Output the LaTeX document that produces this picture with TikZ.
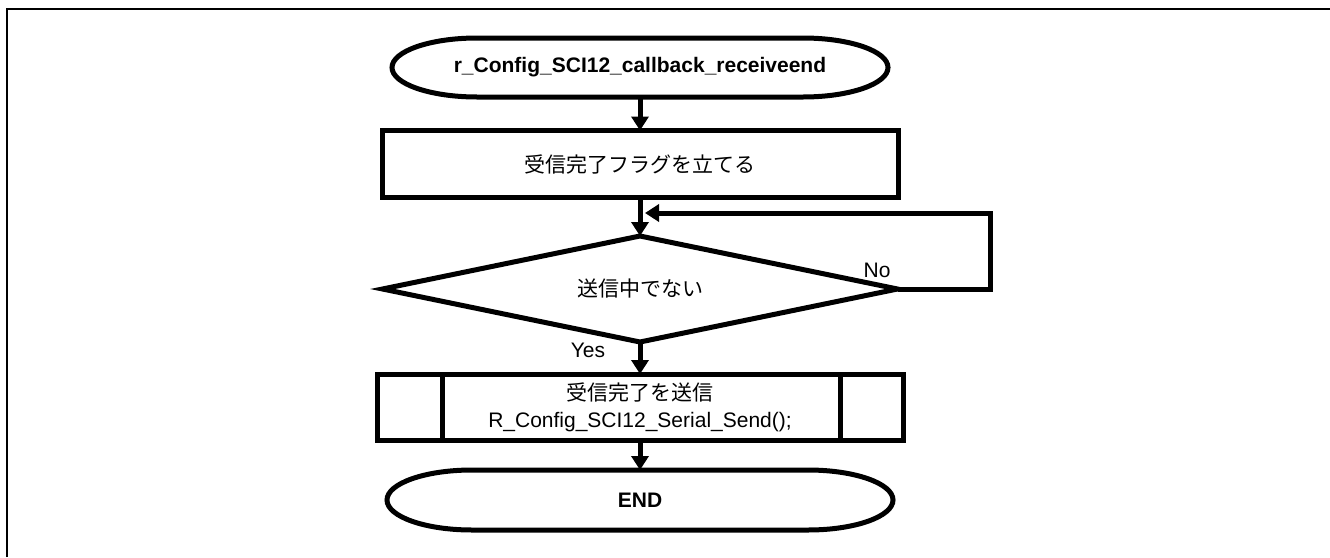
\documentclass[tikz,border=0pt]{standalone}
\usepackage{fontspec}
\setmainfont{Liberation Sans}
\newfontfamily\jp{Noto Sans CJK JP}
\usetikzlibrary{arrows.meta}
\tikzset{
  shp/.style={draw, line width=5pt, inner sep=0pt, outer sep=0pt, align=center,
              font=\fontsize{21}{27}\selectfont},
  ghost/.style={draw=none, inner sep=0pt, outer sep=0pt, align=center,
              font=\fontsize{21}{27}\selectfont},
  outline/.style={line width=5pt, line join=miter},
  flow/.style={line width=5pt, -{Triangle[width=17pt,length=14pt]}},
  lbl/.style={font=\fontsize{21}{25}\selectfont, inner sep=0pt},
  frame/.style={line width=2.5pt},
}
\begin{document}
\begin{tikzpicture}[x=1pt,y=-1pt]
\useasboundingbox (0,0) rectangle (1330,557);
\draw[frame] (7,557) -- (7,9) -- (1330,9);

% start terminator
\node[ghost, font=\fontsize{21}{27}\selectfont\bfseries, minimum width=496pt, minimum height=59pt] (start) at (640,67.5) {r\_Config\_SCI12\_callback\_receiveend};
\draw[outline] ([xshift=85pt]start.north west) -- ([xshift=-85pt]start.north east)
  arc[start angle=90,end angle=-90,x radius=85pt,y radius=29.5pt]
  -- ([xshift=85pt]start.south west)
  arc[start angle=270,end angle=90,x radius=85pt,y radius=29.5pt] -- cycle;

% process
\node[shp, minimum width=516pt, minimum height=67pt] (box1) at (640,164) {{\jp 受信完了フラグを立てる}};

% decision
\node[ghost, minimum width=515pt, minimum height=106pt] (dec) at (640,289) {{\jp 送信中でない}};
\draw[outline] (dec.north) -- (dec.east) -- (dec.south) -- (dec.west) -- cycle;

% predefined process
\node[shp, minimum width=526pt, minimum height=66pt] (pp) at (640,407) {{\jp 受信完了を送信}\\R\_Config\_SCI12\_Serial\_Send();};
\draw[outline] ([xshift=65pt]pp.north west) -- ([xshift=65pt]pp.south west);
\draw[outline] ([xshift=-63pt]pp.north east) -- ([xshift=-63pt]pp.south east);

% end terminator
\node[ghost, font=\fontsize{21}{27}\selectfont\bfseries, minimum width=506pt, minimum height=60pt] (stop) at (640,500) {END};
\draw[outline] ([xshift=85pt]stop.north west) -- ([xshift=-85pt]stop.north east)
  arc[start angle=90,end angle=-90,x radius=85pt,y radius=30pt]
  -- ([xshift=85pt]stop.south west)
  arc[start angle=270,end angle=90,x radius=85pt,y radius=30pt] -- cycle;

% labels
\node[lbl] (no) at (877,270) {No};
\node[lbl] (yes) at (588,350) {Yes};

% connectors
\coordinate (c1) at (990,289);
\coordinate (c2) at (990,213);
\coordinate (m) at (645,213);
\draw[flow] (start.south) -- (box1.north);
\draw[flow] (box1.south) -- (dec.north);
\draw[flow] (dec.east) -- (c1) -- (c2) -- (m);
\draw[flow] (dec.south) -- (pp.north);
\draw[flow] (pp.south) -- (stop.north);
\end{tikzpicture}
\end{document}
